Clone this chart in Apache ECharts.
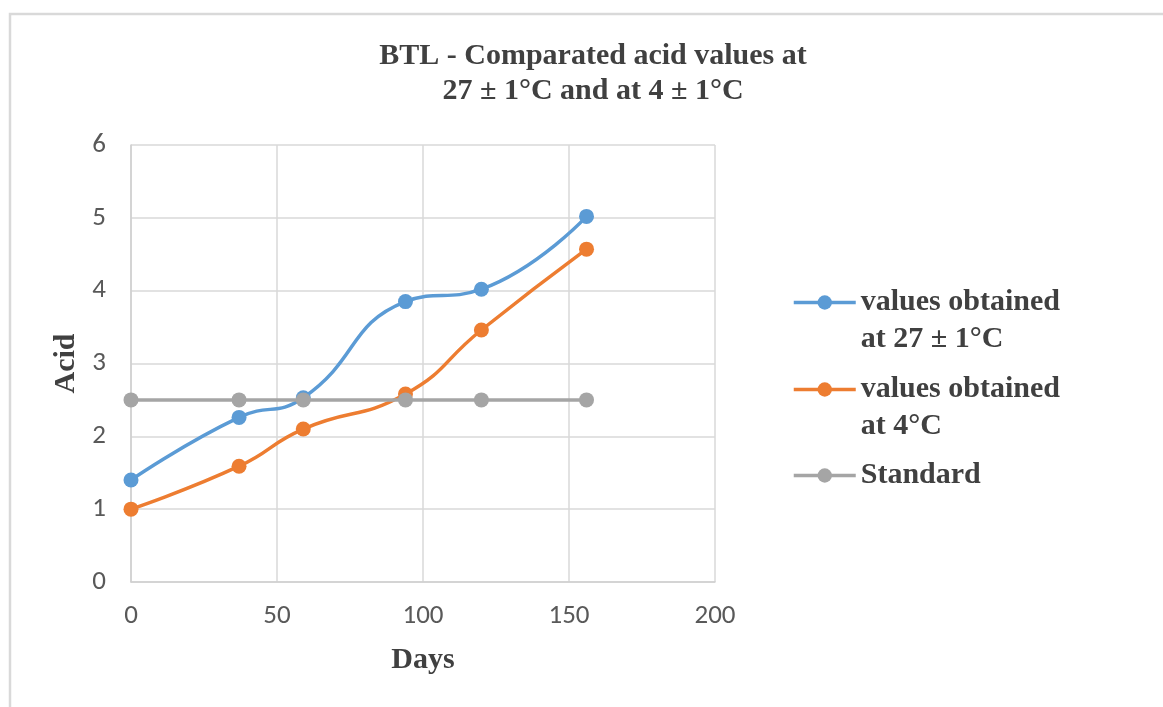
<!DOCTYPE html>
<html>
<head>
<meta charset="utf-8">
<script src="https://cdn.jsdelivr.net/npm/echarts@6/dist/echarts.min.js"></script>
<style>
html,body{margin:0;padding:0;background:#fff;}
#chart{width:1163px;height:707px;}
</style>
</head>
<body>
<div id="chart"></div>
<script>
const days = [0, 37, 59, 94, 120, 156];
const acid27 = [1.40, 2.26, 2.53, 3.85, 4.02, 5.02];
const acid4 = [1.00, 1.59, 2.10, 2.58, 3.46, 4.57];
const standard = [2.5, 2.5, 2.5, 2.5, 2.5, 2.5];
const seriesNames = ['values obtained\nat 27 ± 1°C', 'values obtained\nat 4°C', 'Standard'];
const colors = ['#5b9bd5', '#ed7d31', '#a5a5a5'];
const xTicks = { min: 0, max: 200, interval: 50 };
const yTicks = { min: 0, max: 6, interval: 1 };

const pair = (xs, ys) => xs.map((x, i) => [x, ys[i]]);
const serif = "'Liberation Serif', 'Times New Roman', serif";
const tickFont = "Carlito, 'Liberation Sans Narrow', 'Arial Narrow', sans-serif";

const legendText = {
  fontFamily: serif, fontWeight: 'bold', fontSize: 30, lineHeight: 37, color: '#404040'
};
function makeLegend(name, top, multi) {
  return {
    data: [name], orient: 'vertical', left: 792, top: top, padding: 0,
    itemWidth: 62, itemHeight: 18,
    lineStyle: { width: 3.5 },
    formatter: multi ? (n => '\n' + n) : (n => n),
    textStyle: legendText
  };
}

const chart = echarts.init(document.getElementById('chart'));
chart.setOption({
  animation: false,
  backgroundColor: '#fff',
  title: {
    text: 'BTL - Comparated acid values at\n27 ± 1°C and at 4 ± 1°C',
    left: 593, top: 39, padding: 0, textAlign: 'center',
    textStyle: { fontFamily: serif, fontWeight: 'bold', fontSize: 30, lineHeight: 35, color: '#404040' }
  },
  graphic: [{
    type: 'rect', shape: { x: 10, y: 14, width: 1300, height: 900 },
    style: { fill: 'none', stroke: '#d9d9d9', lineWidth: 2.5 }, silent: true, z: -1
  }],
  legend: [
    makeLegend(seriesNames[0], 247, true),
    makeLegend(seriesNames[1], 334, true),
    makeLegend(seriesNames[2], 457, false)
  ],
  grid: { left: 131, right: 448, top: 145, bottom: 125 },
  xAxis: {
    type: 'value', min: xTicks.min, max: xTicks.max, interval: xTicks.interval,
    name: 'Days', nameLocation: 'middle', nameGap: 63,
    nameTextStyle: { fontFamily: serif, fontWeight: 'bold', fontSize: 30, color: '#404040' },
    axisLine: { show: true, lineStyle: { color: '#cfcfcf', width: 1.5 } },
    axisTick: { show: false },
    axisLabel: { margin: 21, fontFamily: tickFont, fontSize: 27, color: '#595959' },
    splitLine: { show: true, lineStyle: { color: '#d9d9d9', width: 1.5 } }
  },
  yAxis: {
    type: 'value', min: yTicks.min, max: yTicks.max, interval: yTicks.interval,
    name: 'Acid', nameLocation: 'middle', nameGap: 50,
    nameTextStyle: { fontFamily: serif, fontWeight: 'bold', fontSize: 30, color: '#404040' },
    axisLine: { show: true, lineStyle: { color: '#cfcfcf', width: 1.5 } },
    axisTick: { show: false },
    axisLabel: { margin: 25, fontFamily: tickFont, fontSize: 27, color: '#595959' },
    splitLine: { show: true, lineStyle: { color: '#d9d9d9', width: 1.5 } }
  },
  series: [
    { name: seriesNames[0], type: 'line', data: pair(days, acid27), smooth: 0.5,
      symbol: 'circle', symbolSize: 15, color: colors[0], lineStyle: { width: 3.5 }, z: 4 },
    { name: seriesNames[1], type: 'line', data: pair(days, acid4), smooth: 0.5,
      symbol: 'circle', symbolSize: 15, color: colors[1], lineStyle: { width: 3.5 }, z: 3 },
    { name: seriesNames[2], type: 'line', data: pair(days, standard),
      symbol: 'circle', symbolSize: 15, color: colors[2], lineStyle: { width: 3.5 }, z: 5 }
  ]
});
</script>
</body>
</html>
